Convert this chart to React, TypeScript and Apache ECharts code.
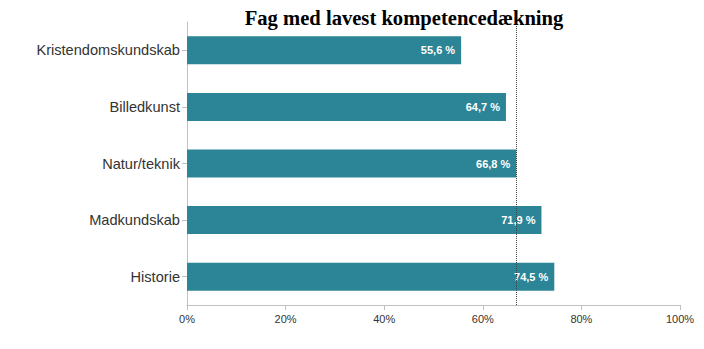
import React, { useEffect, useRef } from "react";
import * as echarts from "echarts";

const categories = ["Kristendomskundskab", "Billedkunst", "Natur/teknik", "Madkundskab", "Historie"];
const values = [55.6, 64.7, 66.8, 71.9, 74.5];
const referenceLine = 66.7;
const xTicks = [0, 20, 40, 60, 80, 100];

export default function App() {
  const ref = useRef<HTMLDivElement>(null);
  useEffect(() => {
    document.body.style.margin = "0";
    const chart = echarts.init(ref.current!, null, { renderer: "svg" });
    chart.setOption({
      animation: false,
      title: {
        text: "Fag med lavest kompetencedækning",
        left: 399,
        textAlign: "center",
        top: 2,
        textStyle: { fontFamily: "Liberation Serif, Times New Roman, serif", fontWeight: "bold", fontSize: 20.6, color: "#000" },
      },
      grid: { left: 187, right: 24, top: 22, bottom: 44, containLabel: false },
      xAxis: {
        type: "value",
        min: xTicks[0],
        max: xTicks[xTicks.length - 1],
        interval: 20,
        axisLine: { show: true, lineStyle: { color: "#c0c0c0" } },
        axisTick: { show: true, length: 5, lineStyle: { color: "#c0c0c0" } },
        splitLine: { show: false },
        axisLabel: { formatter: "{value}%", color: "#333", fontSize: 11, fontFamily: "Arial, Liberation Sans, sans-serif", margin: 8 },
      },
      yAxis: {
        type: "category",
        data: categories,
        inverse: true,
        axisLine: { show: true, lineStyle: { color: "#c0c0c0" } },
        axisTick: { show: true, length: 5, alignWithLabel: true, lineStyle: { color: "#c0c0c0" } },
        axisLabel: { color: "#333", fontSize: 14.6, fontFamily: "Arial, Liberation Sans, sans-serif", margin: 7 },
      },
      series: [
        {
          type: "bar",
          data: values,
          barWidth: 28,
          itemStyle: { color: "#2c8597" },
          label: {
            show: true,
            position: "insideRight",
            distance: 6,
            formatter: (p: any) => p.value.toFixed(1).replace(".", ",") + " %",
            color: "#fff",
            fontWeight: "bold",
            fontSize: 11,
            fontFamily: "Arial, Liberation Sans, sans-serif",
          },
          markLine: {
            silent: true,
            symbol: "none",
            label: { show: false },
            lineStyle: { type: "dotted", color: "#444", width: 1 },
            data: [{ xAxis: referenceLine }],
          },
        },
      ],
    });
    return () => chart.dispose();
  }, []);
  return <div ref={ref} style={{ width: 704, height: 349 }} />;
}
